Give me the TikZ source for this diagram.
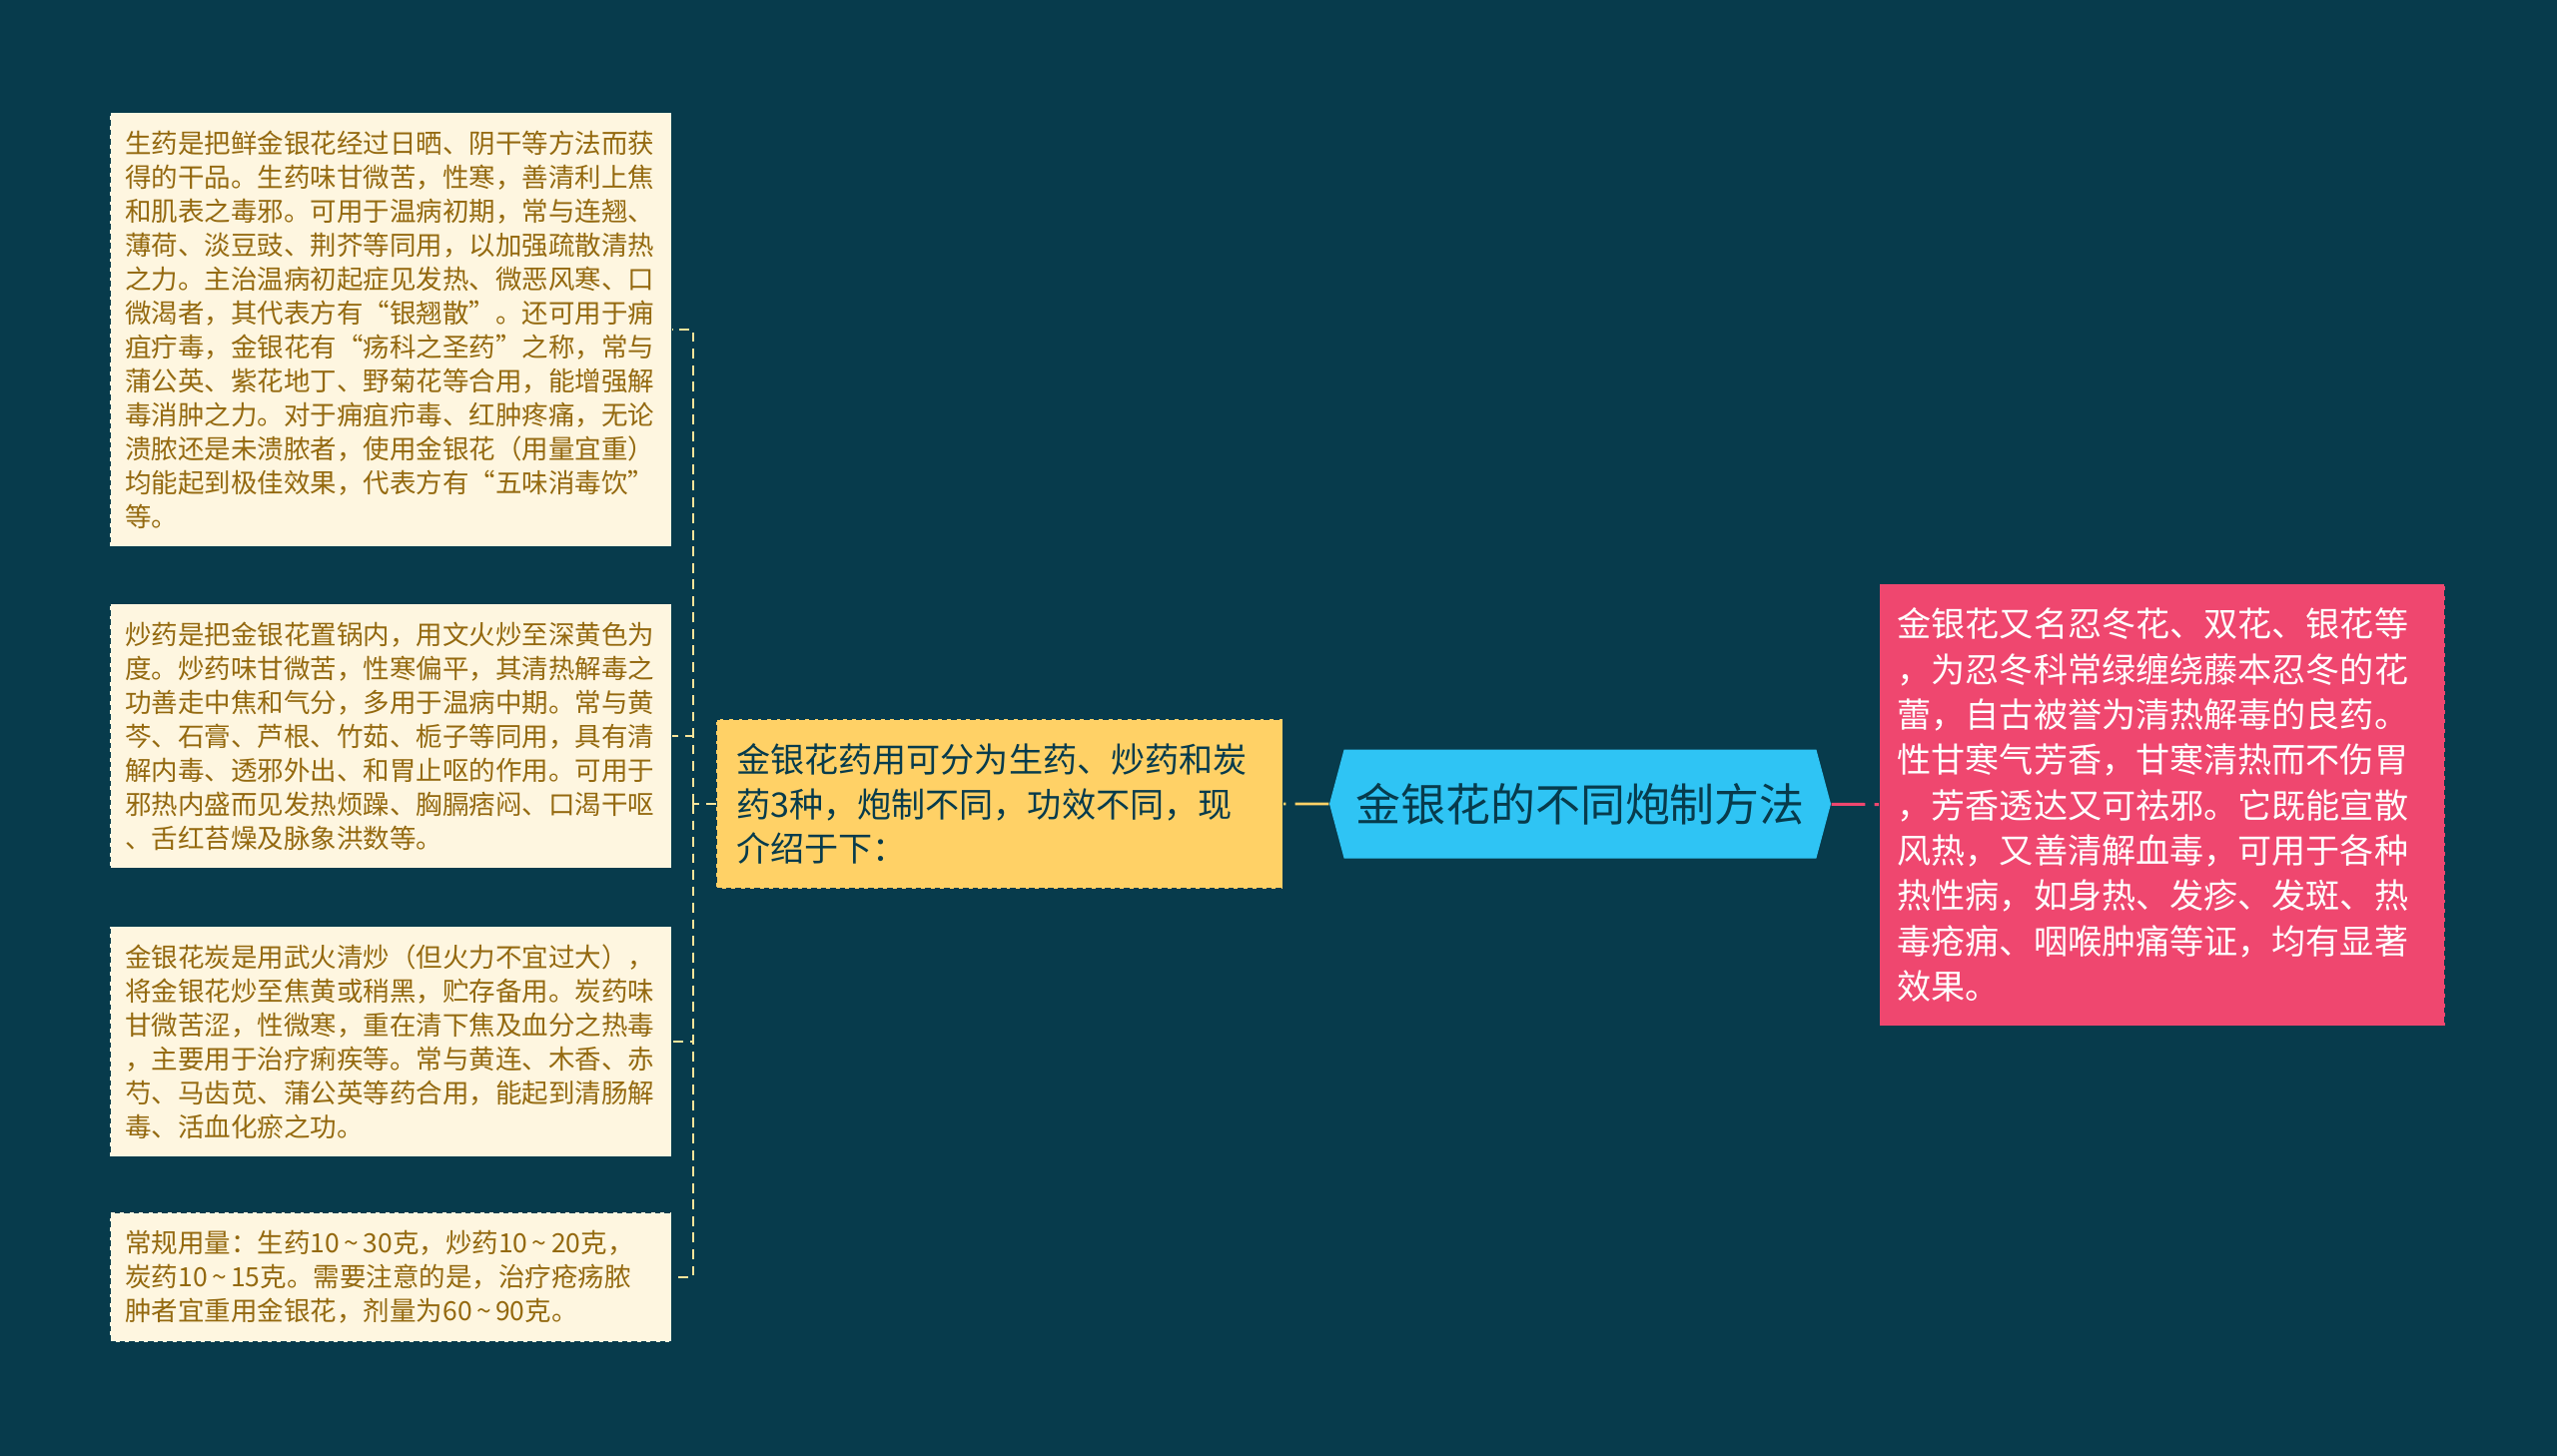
\documentclass[tikz,border=0pt]{standalone}
\usepackage{fontspec}
\setmainfont{Noto Sans CJK SC}
\usetikzlibrary{positioning,shapes.symbols}
\definecolor{bgteal}{HTML}{073B4C}
\definecolor{leafcream}{HTML}{FEF6E0}
\definecolor{leaftext}{HTML}{94690F}
\definecolor{branchyellow}{HTML}{FFD166}
\definecolor{rootblue}{HTML}{2FC4F4}
\definecolor{notepink}{HTML}{EF476F}
\definecolor{linkyellow}{HTML}{F9E49A}
\newcommand{\rng}{\,\textasciitilde\,}
\tikzset{
    box edge/.style={draw=bgteal, dash pattern=on 1.6pt off 1.1pt, line width=0.4pt},
    leaf box/.style={box edge, fill=leafcream, text=leaftext, anchor=east, align=left,
        text width=5.32cm, inner xsep=0.15cm, inner ysep=0.18cm,
        font=\fontsize{7.54pt}{9.67pt}\selectfont},
    branch box/.style={box edge, fill=branchyellow, text=bgteal, anchor=east, align=left,
        text width=5.27cm, inner xsep=0.2cm, inner ysep=0.24cm,
        font=\fontsize{9.7pt}{12.75pt}\selectfont},
    note box/.style={box edge, fill=notepink, text=white, anchor=west, align=left,
        text width=5.3cm, inner xsep=0.18cm, inner ysep=0.24cm,
        font=\fontsize{9.7pt}{12.9pt}\selectfont},
    root node/.style={signal, signal to=west and east, signal pointer angle=150,
        fill=rootblue, text=bgteal, minimum width=5.02cm, minimum height=1.09cm,
        inner xsep=0.1cm, font=\fontsize{12.8pt}{15pt}\selectfont},
    root link/.style={line width=0.85pt, dash pattern=on 9.6pt off 2.6pt},
    leaf link/.style={draw=linkyellow, line width=0.55pt, dash pattern=on 2.8pt off 1.9pt},
}

\begin{document}
\begin{tikzpicture}
    \fill[bgteal] (0,0) rectangle (25.6,-14.58);

    \node[root node] (root) at (15.82,-8.05) {金银花的不同炮制方法};

    \node[branch box] (kinds) at (12.85,-8.05) {金银花药用可分为生药、炒药和炭\\
        药3种，炮制不同，功效不同，现\\
        介绍于下：};

    \node[note box] (intro) at (18.81,-8.06) {金银花又名忍冬花、双花、银花等\\
        ，为忍冬科常绿缠绕藤本忍冬的花\\
        蕾，自古被誉为清热解毒的良药。\\
        性甘寒气芳香，甘寒清热而不伤胃\\
        ，芳香透达又可祛邪。它既能宣散\\
        风热，又善清解血毒，可用于各种\\
        热性病，如身热、发疹、发斑、热\\
        毒疮痈、咽喉肿痛等证，均有显著\\
        效果。};

    \node[leaf box] (raw) at (6.73,-3.30) {生药是把鲜金银花经过日晒、阴干等方法而获\\
        得的干品。生药味甘微苦，性寒，善清利上焦\\
        和肌表之毒邪。可用于温病初期，常与连翘、\\
        薄荷、淡豆豉、荆芥等同用，以加强疏散清热\\
        之力。主治温病初起症见发热、微恶风寒、口\\
        微渴者，其代表方有“银翘散”。还可用于痈\\
        疽疔毒，金银花有“疡科之圣药”之称，常与\\
        蒲公英、紫花地丁、野菊花等合用，能增强解\\
        毒消肿之力。对于痈疽疖毒、红肿疼痛，无论\\
        溃脓还是未溃脓者，使用金银花（用量宜重）\\
        均能起到极佳效果，代表方有“五味消毒饮”\\
        等。};

    \node[leaf box] (fried) at (6.73,-7.37) {炒药是把金银花置锅内，用文火炒至深黄色为\\
        度。炒药味甘微苦，性寒偏平，其清热解毒之\\
        功善走中焦和气分，多用于温病中期。常与黄\\
        芩、石膏、芦根、竹茹、栀子等同用，具有清\\
        解内毒、透邪外出、和胃止呕的作用。可用于\\
        邪热内盛而见发热烦躁、胸膈痞闷、口渴干呕\\
        、舌红苔燥及脉象洪数等。};

    \node[leaf box] (charred) at (6.73,-10.43) {金银花炭是用武火清炒（但火力不宜过大），\\
        将金银花炒至焦黄或稍黑，贮存备用。炭药味\\
        甘微苦涩，性微寒，重在清下焦及血分之热毒\\
        ，主要用于治疗痢疾等。常与黄连、木香、赤\\
        芍、马齿苋、蒲公英等药合用，能起到清肠解\\
        毒、活血化瘀之功。};

    \node[leaf box] (dose) at (6.73,-12.79) {常规用量：生药10\rng30克，炒药10\rng20克，\\
        炭药10\rng15克。需要注意的是，治疗疮疡脓\\
        肿者宜重用金银花，剂量为60\rng90克。};

    % links
    \draw[root link, draw=branchyellow] (root) -- (kinds);
    \draw[root link, draw=notepink] (root) -- (intro);

    \coordinate (fork) at (6.94,-8.05);
    \draw[leaf link] (kinds.west) -- (fork);
    \foreach \leaf in {raw,fried,charred,dose}
        \draw[leaf link] (fork) |- (\leaf.east);
\end{tikzpicture}
\end{document}
